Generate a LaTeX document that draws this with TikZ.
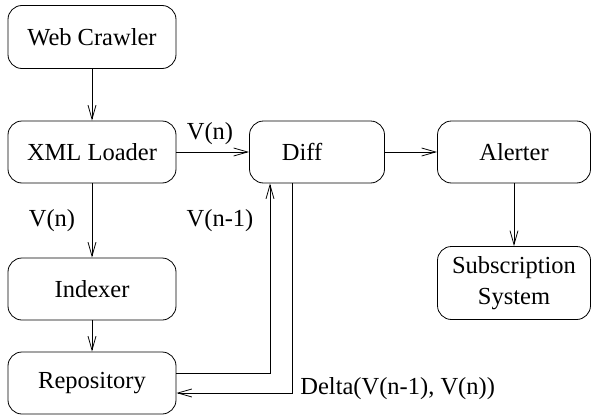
\documentclass[tikz,border=0pt]{standalone}
\usepackage{fontspec}
\setmainfont{Liberation Serif}
\usetikzlibrary{arrows.meta}

\begin{document}
\begin{tikzpicture}
  [x=1pt,y=-1pt,line width=0.8pt,>={Straight Barb[length=14pt,width=8pt]},
   every node/.style={draw,rounded corners=14pt,inner sep=0pt,align=center,
     font=\fontsize{24.5}{31}\selectfont},
   lbl/.style={draw=none,rounded corners=0pt}]
  \useasboundingbox (0,0) rectangle (592,415);

  \node[minimum width=168,minimum height=63] (web) at (92,37) {Web Crawler};
  \node[minimum width=168,minimum height=62] (xml) at (92,152) {XML Loader};
  \node[minimum width=168,minimum height=62] (idx) at (92,289) {Indexer};
  \node[minimum width=168,minimum height=62] (repo) at (92,383) {Repository};
  \node[minimum width=135,minimum height=62] (diff) at (317,152) {Diff\hspace*{30pt}};
  \node[minimum width=153,minimum height=73] (subs) at (514,283) {Subscription\\System};
  \node[minimum width=153,minimum height=62] (alert) at (514,152) {Alerter};

  \foreach \from/\to in {web/xml,xml/idx,idx/repo,xml/diff,diff/alert,alert/subs}
    \draw[->] (\from) -- (\to);

  \draw[->] ([yshift=10pt]repo.east) -| ([xshift=-47pt]diff.south);
  \draw[->] ([xshift=-25pt]diff.south) |- ([yshift=-10pt]repo.east);

  \node[lbl] (lxd) at (210,134) {V(n)};
  \node[lbl] (lxi) at (52,221) {V(n)};
  \node[lbl] (lrd) at (220,221) {V(n-1)};
  \node[lbl,anchor=west] (ldr) at (300,389) {Delta(V(n-1), V(n))};
\end{tikzpicture}
\end{document}
